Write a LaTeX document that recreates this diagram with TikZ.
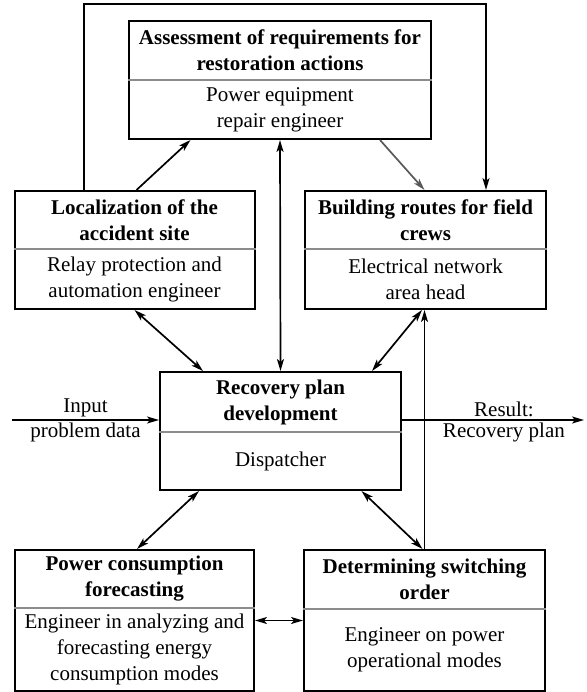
\documentclass[tikz,border=0pt]{standalone}
\usepackage{fontspec}
\setmainfont{Liberation Serif}
\usetikzlibrary{shapes.multipart,arrows.meta}
\newcommand{\cellbox}[3]{\parbox[c][#2pt][c]{#1pt}{\centering #3}}
\begin{document}
\begin{tikzpicture}[x=1pt,y=-1pt,font=\fontsize{21}{26}\selectfont,
  >={Stealth[length=12pt,width=7pt,inset=3pt]},
  box/.style={draw,line width=2pt,rectangle split,rectangle split parts=2,
    rectangle split draw splits=false,inner sep=0pt},
  split/.style={draw=black!45,line width=1.2pt},
  link/.style={line width=1.7pt}]
\useasboundingbox (0,0) rectangle (586,692);
%BOXES
\node[box] (assess) at (280,80) {\cellbox{302}{57}{\textbf{Assessment of requirements for}\\\textbf{restoration actions}}\nodepart{two}\cellbox{302}{57}{Power equipment\\repair engineer}};
\node[box] (loc) at (134.5,250) {\cellbox{240}{56}{\textbf{Localization of the}\\\textbf{accident site}}\nodepart{two}\cellbox{240}{58}{Relay protection and\\automation engineer}};
\node[box] (route) at (425.5,250) {\cellbox{241}{56}{\textbf{Building routes for field}\\\textbf{crews}}\nodepart{two}\cellbox{241}{58}{Electrical network\\area head}};
\node[box] (plan) at (280.5,431) {\cellbox{241}{58}{\textbf{Recovery plan}\\\textbf{development}}\nodepart{two}\cellbox{241}{56}{Dispatcher}};
\node[box] (forecast) at (134.5,620.5) {\cellbox{239}{56}{\textbf{Power consumption}\\\textbf{forecasting}}\nodepart{two}\cellbox{239}{81}{Engineer in analyzing and\\forecasting energy\\consumption modes}};
\node[box] (switch) at (424.5,620.5) {\cellbox{241}{57}{\textbf{Determining switching}\\\textbf{order}}\nodepart{two}\cellbox{241}{80}{Engineer on power\\operational modes}};
\foreach \n in {assess,loc,route,plan,forecast,switch}
  \draw[split] (\n.text split west) -- (\n.text split east);
%LINKS
\coordinate (top) at (280,4);
\coordinate (in) at (12,420);
\coordinate (out) at (584,420);
\draw[link,->] ([xshift=-50.5pt]loc.north) |- (top) -| ([xshift=60.5pt]route.north);
\draw[link,->] ([xshift=2pt]loc.north) -- ([xshift=-89.5pt]assess.south);
\draw[link,<->] (assess.south) -- (plan.north);
\draw[link,->,black!65] ([xshift=100pt]assess.south) -- ([xshift=-1pt]route.north);
\draw[link,<->] (loc.south) -- ([xshift=-77.5pt]plan.north);
\draw[link,<->] ([xshift=-3.5pt]route.south) -- ([xshift=91.5pt]plan.north);
\draw[link,<->] ([xshift=-81.5pt]plan.south) -- ([xshift=2.5pt]forecast.north);
\draw[link,<->] ([xshift=81pt]plan.south) -- ([xshift=-2pt]switch.north);
\draw[link,->] (switch.north) -- (switch.north |- route.south);
\draw[link,<->] (forecast.east) -- (switch.west);
\draw[link,->] (in) -- (plan.west |- in)
  node[midway,above,inner sep=2pt] (inlab) {Input}
  node[midway,below,inner sep=2pt] (inlab2) {problem data};
\draw[link,->] (plan.east |- out) -- (out)
  node[pos=0.56,above,inner sep=2pt] (outlab) {Result:}
  node[pos=0.56,below,inner sep=2pt] (outlab2) {Recovery plan};
\end{tikzpicture}
\end{document}
